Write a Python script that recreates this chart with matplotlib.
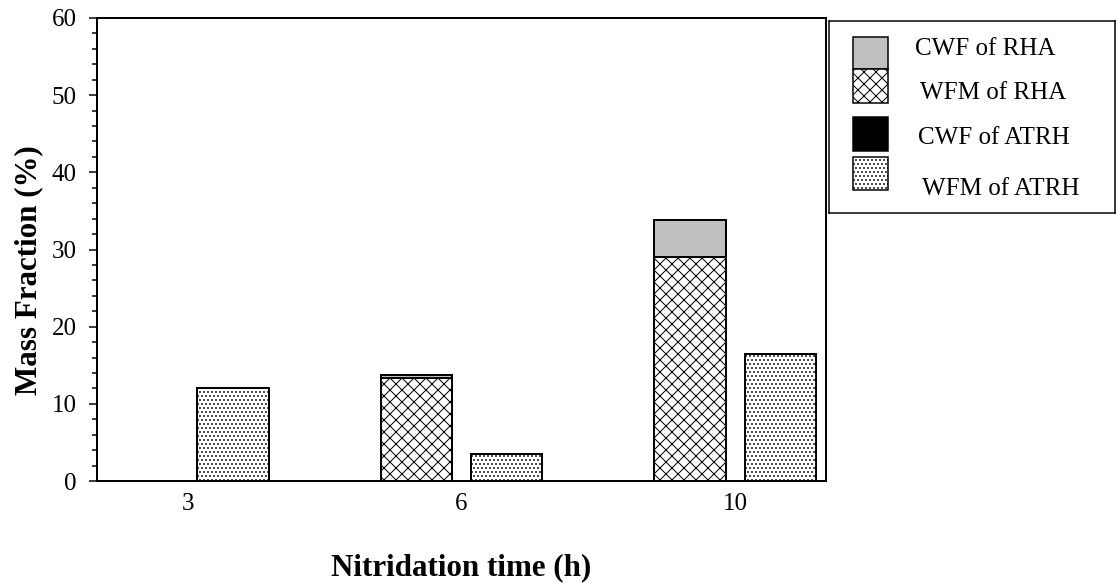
import matplotlib.pyplot as plt
import numpy as np
from matplotlib.patches import Rectangle

# Nitridation time categories and mass fractions (%)
times = ["3", "6", "10"]
wfm_rha = [0.0, 13.3, 29.0]
cwf_rha = [0.0, 0.5, 4.8]
wfm_atrh = [12.0, 3.5, 16.4]
cwf_atrh = [0.0, 0.0, 0.0]

plt.rcParams["font.family"] = ["Liberation Serif", "DejaVu Serif"]
plt.rcParams["hatch.linewidth"] = 1.0
plt.rcParams["hatch.color"] = "#303030"

W, H, DPI = 1117, 585, 72
fig = plt.figure(figsize=(W / DPI, H / DPI), dpi=DPI)


def px_box(left, top, right, bottom):
    return [left / W, 1 - bottom / H, (right - left) / W, (bottom - top) / H]


ax = fig.add_axes(px_box(97, 18, 826, 481))

x = np.arange(len(times))
width = 0.26
off = 0.165

ax.bar(x - off, wfm_rha, width, color="white", edgecolor="black", linewidth=2, hatch="xx")
ax.bar(x - off, cwf_rha, width, bottom=wfm_rha, color="#c0c0c0", edgecolor="black", linewidth=2)
ax.bar(x + off, wfm_atrh, width, color="white", edgecolor="black", linewidth=2, hatch="...")
ax.bar(x + off, cwf_atrh, width, bottom=wfm_atrh, color="black", edgecolor="black", linewidth=2)

ax.set_xlim(-0.332, 2.332)
ax.set_ylim(0, 60)
ax.set_xticks(x)
ax.set_xticklabels(times)
ax.set_yticks(np.arange(0, 61, 10))
ax.set_yticks(np.arange(0, 61, 2), minor=True)
ax.tick_params(axis="x", length=0, labelsize=25, pad=12)
ax.tick_params(axis="y", which="major", length=8, width=1.5, labelsize=25, pad=12)
ax.tick_params(axis="y", which="minor", length=5, width=1.5)
for s in ax.spines.values():
    s.set_linewidth(2)

ax.set_ylabel("Mass Fraction (%)", fontsize=31, fontweight="bold")
ax.yaxis.set_label_coords(-0.074, 0.456)
ax.set_xlabel("Nitridation time (h)", fontsize=31, fontweight="bold", labelpad=38)

# Legend box drawn by hand, in pixel coordinates
lax = fig.add_axes(px_box(829, 20.7, 1115, 213))
lax.set_xlim(829, 1115)
lax.set_ylim(213, 20.7)
lax.set_xticks([])
lax.set_yticks([])
for s in lax.spines.values():
    s.set_linewidth(1.5)

entries = [
    ("CWF of RHA", 37, 69, dict(facecolor="#c0c0c0"), 915, 55),
    ("WFM of RHA", 69, 103, dict(facecolor="white", hatch="xx"), 920, 99),
    ("CWF of ATRH", 117, 151, dict(facecolor="black"), 918, 144),
    ("WFM of ATRH", 157, 190, dict(facecolor="white", hatch="..."), 922, 195),
]
for label, y0, y1, style, tx, ty in entries:
    lax.add_patch(Rectangle((853, y0), 35, y1 - y0, edgecolor="black", linewidth=1.5, **style))
    lax.text(tx, ty, label, fontsize=25, ha="left", va="baseline")

fig.savefig("out.png", dpi=DPI)
